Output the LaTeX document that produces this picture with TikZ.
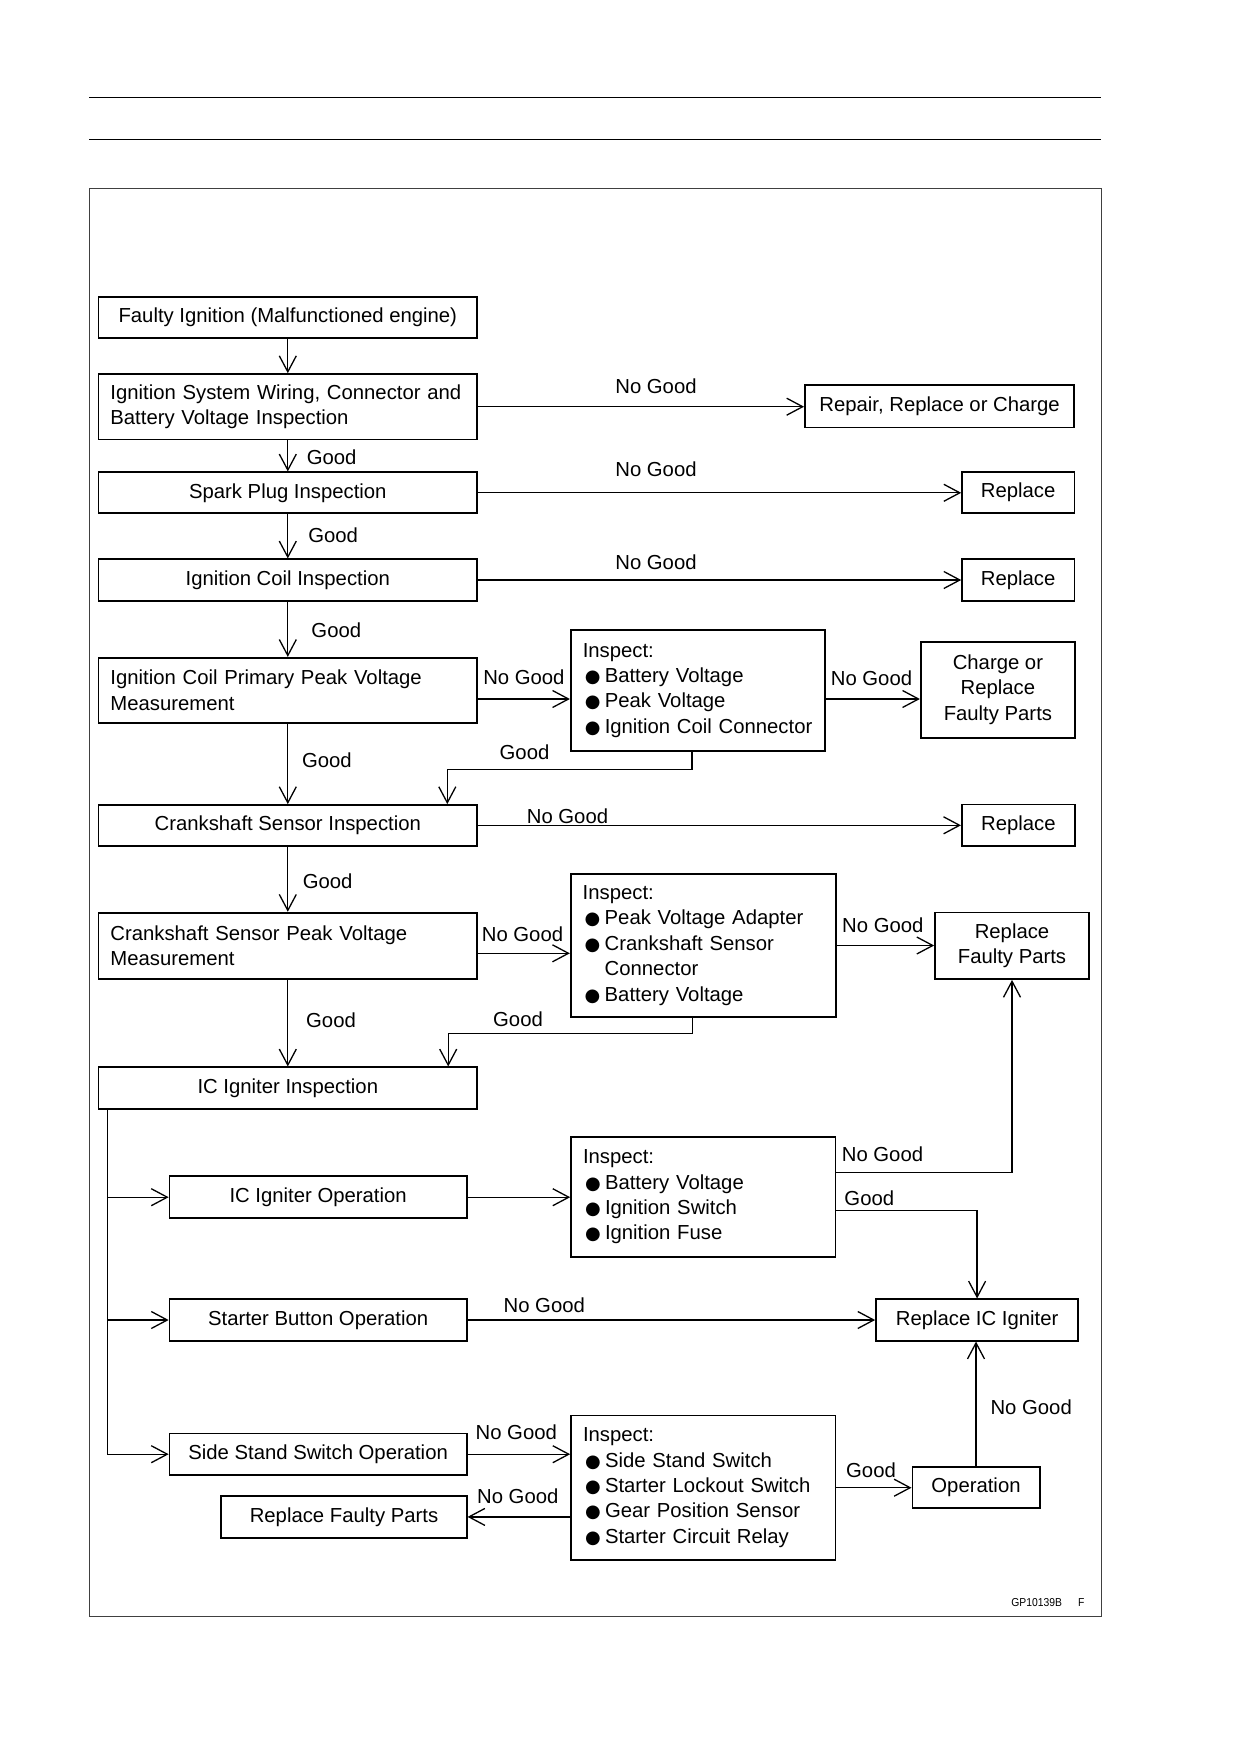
\documentclass[tikz,border=0pt]{standalone}
\usepackage{fontspec}
\setmainfont{Liberation Sans}
\newfontfamily\dejavu{DejaVu Sans}
\usetikzlibrary{arrows.meta}
\newcommand{\blt}{\makebox[22pt][l]{\hspace{2pt}{\dejavu\fontsize{18}{18}\selectfont ●}}}

\begin{document}
\begin{tikzpicture}[x=1pt, y=-1pt,
  every node/.style={font=\fontsize{20.3}{25.4}\selectfont},
  box/.style={draw, line width=1.7pt, inner sep=0pt, align=center},
  lbox/.style={draw, line width=1.7pt, inner xsep=12pt, inner ysep=0pt, align=left},
  lab/.style={inner sep=0pt},
  ln/.style={line width=1.3pt},
  arr/.style={line width=1.3pt, -{Straight Barb[length=16pt, width=17pt]}}]
        \useasboundingbox (0,0) rectangle (1247,1760);
        \draw[line width=1.4pt] (89.3,97.3) -- (1101.4,97.3);
        \draw[line width=1.4pt] (89.3,139.7) -- (1101.4,139.7);
        \draw[line width=1pt, black!75] (89.3,189) rectangle (1101.4,1616.7);

        \node[box, minimum width=378.8pt, minimum height=41.6pt] (b1) at (287.8,317.5) {Faulty Ignition (Malfunctioned engine)};
        \node[lbox, text width=354.8pt, minimum height=65.3pt] (b2) at (287.8,406.7) {Ignition System Wiring, Connector and\\Battery Voltage Inspection};
        \node[box, minimum width=378.8pt, minimum height=41pt] (b3) at (287.8,492.8) {Spark Plug Inspection};
        \node[box, minimum width=378.8pt, minimum height=41.4pt] (b4) at (287.8,580) {Ignition Coil Inspection};
        \node[lbox, text width=354.8pt, minimum height=65.3pt] (b5) at (287.8,690.4) {Ignition Coil Primary Peak Voltage\\Measurement};
        \node[box, minimum width=378.8pt, minimum height=40.7pt] (b6) at (287.8,825.3) {Crankshaft Sensor Inspection};
        \node[lbox, text width=354.8pt, minimum height=66.3pt] (b7) at (287.8,945.8) {Crankshaft Sensor Peak Voltage\\Measurement};
        \node[box, minimum width=378.8pt, minimum height=42pt] (b8) at (287.8,1088.3) {IC Igniter Inspection};
        \node[box, minimum width=297.2pt, minimum height=42pt] (b9) at (318.1,1197.2) {IC Igniter Operation};
        \node[box, minimum width=297.2pt, minimum height=41.4pt] (b10) at (318.1,1320) {Starter Button Operation};
        \node[box, minimum width=297.2pt, minimum height=41.7pt] (b11) at (318.1,1454.2) {Side Stand Switch Operation};
        \node[box, minimum width=245.4pt, minimum height=41.7pt] (b12) at (344,1516.9) {Replace Faulty Parts};

        \node[box, minimum width=269.4pt, minimum height=42.3pt] (r1) at (939.6,406.2) {Repair, Replace or Charge};
        \node[box, minimum width=112.3pt, minimum height=41.6pt] (r2) at (1018.2,492.5) {Replace};
        \node[box, minimum width=112.3pt, minimum height=41.7pt] (r3) at (1018.2,579.9) {Replace};
        \node[box, minimum width=154.3pt, minimum height=96pt] (r4) at (997.9,689.7) {Charge or\\Replace\\Faulty Parts};
        \node[box, minimum width=113.2pt, minimum height=41.7pt] (r5) at (1018.4,825.2) {Replace};
        \node[box, minimum width=154pt, minimum height=66.7pt] (r6) at (1012,945.7) {Replace\\Faulty Parts};
        \node[box, minimum width=202.2pt, minimum height=41.4pt] (r7) at (977.1,1320) {Replace IC Igniter};
        \node[box, minimum width=127.3pt, minimum height=41.6pt] (r8) at (976,1487.5) {Operation};

        \node[lbox, text width=230.3pt, minimum height=121.2pt] (i1) at (697.9,690.3) {Inspect:\\\blt Battery Voltage\\\blt Peak Voltage\\\blt Ignition Coil Connector};
        \node[lbox, text width=241pt, minimum height=142.4pt] (i2) at (703.2,945.5) {Inspect:\\\blt Peak Voltage Adapter\\\blt Crankshaft Sensor\\\hspace*{22pt}Connector\\\blt Battery Voltage};
        \node[lbox, text width=240.6pt, minimum height=119.4pt] (i3) at (703.3,1197) {Inspect:\\\blt Battery Voltage\\\blt Ignition Switch\\\blt Ignition Fuse};
        \node[lbox, text width=240.6pt, minimum height=144.7pt] (i4) at (703.3,1487.7) {Inspect:\\\blt Side Stand Switch\\\blt Starter Lockout Switch\\\blt Gear Position Sensor\\\blt Starter Circuit Relay};

        \node[lab] (g1) at (331.6,457.3) {Good};
        \node[lab] (g2) at (333.2,535) {Good};
        \node[lab] (g3) at (336.3,630.7) {Good};
        \node[lab] (g4) at (326.9,760.7) {Good};
        \node[lab] (g5) at (327.7,881) {Good};
        \node[lab] (g6) at (331,1020) {Good};
        \node[lab] (g7) at (524.5,752.3) {Good};
        \node[lab] (g8) at (518,1019) {Good};
        \node[lab] (g9) at (869.3,1198.7) {Good};
        \node[lab] (g10) at (871,1470) {Good};

        \node[lab] (n1) at (656,386) {No Good};
        \node[lab] (n2) at (656,469.3) {No Good};
        \node[lab] (n3) at (656,562.7) {No Good};
        \node[lab] (n4) at (523.9,677.3) {No Good};
        \node[lab] (n5) at (871.5,678.7) {No Good};
        \node[lab] (n6) at (567.5,816.7) {No Good};
        \node[lab] (n7) at (522.5,934.3) {No Good};
        \node[lab] (n8) at (882.8,925) {No Good};
        \node[lab] (n9) at (882.5,1154.3) {No Good};
        \node[lab] (n10) at (544.3,1305) {No Good};
        \node[lab] (n11) at (1031.2,1407.3) {No Good};
        \node[lab] (n12) at (516.3,1432.3) {No Good};
        \node[lab] (n13) at (517.8,1496.7) {No Good};

        \node[lab, font=\fontsize{11.5}{11.5}\selectfont] (gp) at (1047.9,1602.3) {\scalebox{0.9}[1]{GP10139B\hspace{17.8pt}F}};

        \coordinate (k1) at (447.3,769.3);
        \coordinate (k2) at (448.2,1033.3);
        \coordinate (k3) at ([xshift=10.2pt]b8.south west);

        \draw[arr] (b1) -- (b2);
        \draw[arr] (b2) -- (b3);
        \draw[arr] (b3) -- (b4);
        \draw[arr] (b4) -- (b5);
        \draw[arr] (b5) -- (b6);
        \draw[arr] (b6) -- (b7);
        \draw[arr] (b7) -- (b8);

        \draw[arr] (b2.east) -- (b2.east -| r1.west);
        \draw[arr] (b3.east) -- (b3.east -| r2.west);
        \draw[arr] (b4.east) -- (b4.east -| r3.west);
        \draw[arr] ([yshift=-8.6pt]b5.east) -- ([yshift=-8.6pt]b5.east -| i1.west);
        \draw[arr] ([yshift=-8.7pt]i1.east) -- ([yshift=-8.7pt]i1.east -| r4.west);
        \draw[arr] ([xshift=-6pt]i1.south) |- (k1) -- (k1 |- b6.north);
        \draw[arr] (b6.east) -- (b6.east -| r5.west);
        \draw[arr] ([yshift=-7.5pt]b7.east) -- ([yshift=-7.5pt]b7.east -| i2.west);
        \draw[arr] (i2.east) -- (i2.east -| r6.west);
        \draw[arr] ([xshift=-11pt]i2.south) |- (k2) -- (k2 |- b8.north);

        \draw[arr] (k3) |- (b11.west);
        \draw[arr] (k3 |- b9.west) -- (b9.west);
        \draw[arr] (k3 |- b10.west) -- (b10.west);
        \draw[arr] (b9.east) -- (b9.east -| i3.west);
        \draw[arr] ([yshift=24.7pt]i3.east) -| (r6.south);
        \draw[arr] ([yshift=-13.7pt]i3.east) -| (r7.north);
        \draw[arr] (b10.east) -- (b10.east -| r7.west);
        \draw[arr] (b11.east) -- (b11.east -| i4.west);
        \draw[arr] (b12.east -| i4.west) -- (b12.east);
        \draw[arr] (i4.east) -- (i4.east -| r8.west);
        \draw[arr] (r8.north) -- (r8.north |- r7.south);
\end{tikzpicture}
\end{document}
